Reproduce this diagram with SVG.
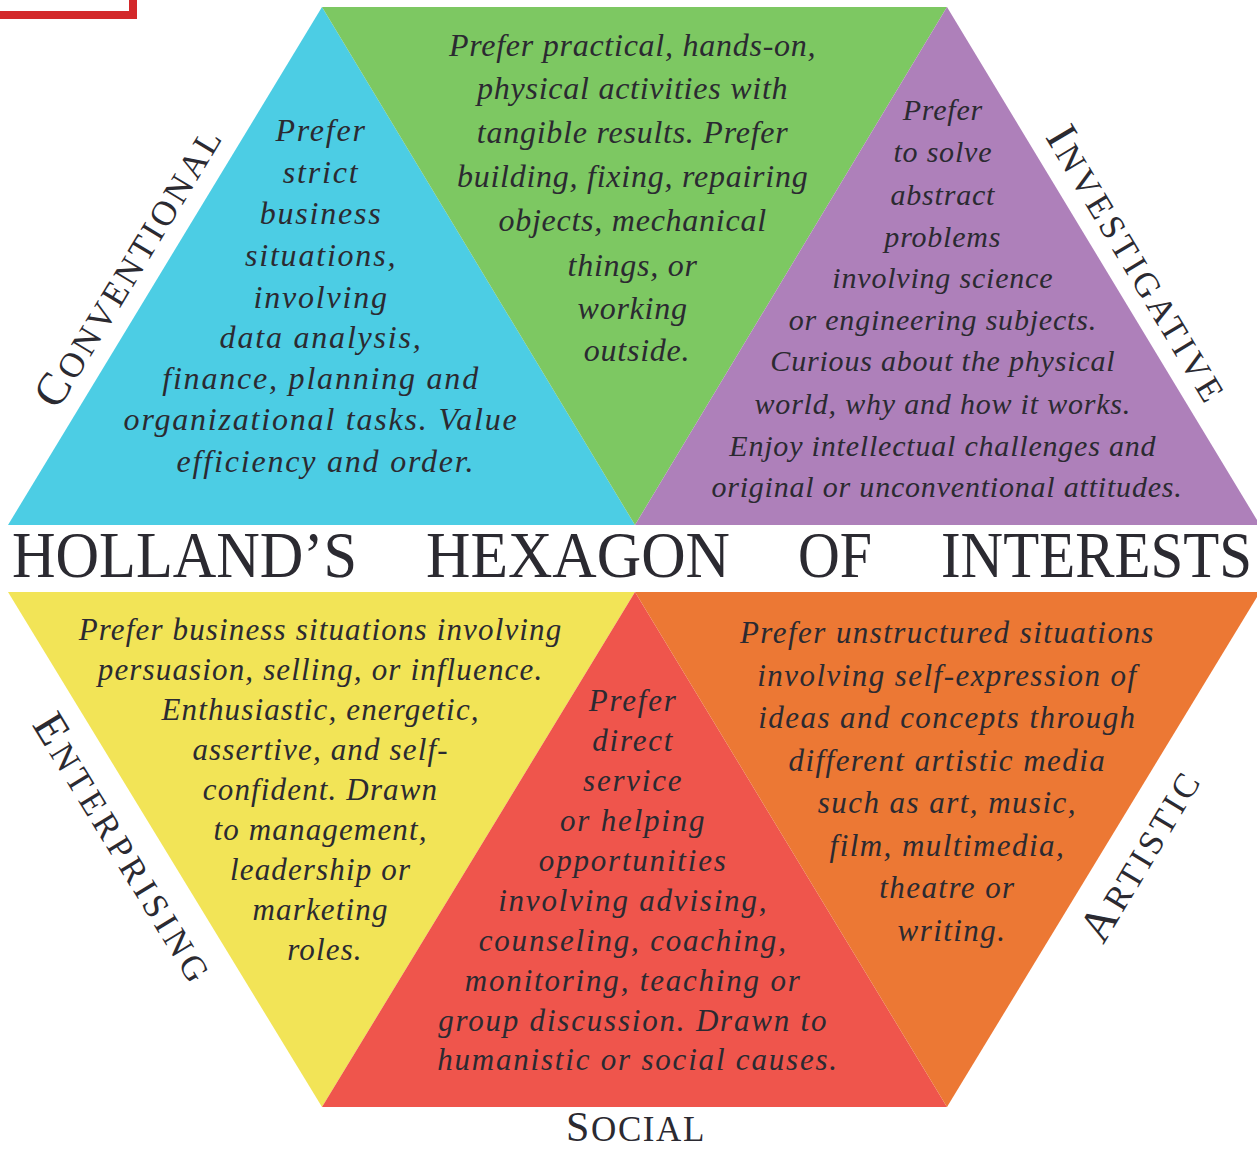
<svg xmlns="http://www.w3.org/2000/svg" width="1257" height="1152" viewBox="0 0 1257 1152">
<style>
.body{font-family:"Liberation Serif","DejaVu Serif",serif;font-style:italic;font-size:32px;fill:#2b2a31;text-anchor:middle}
.pur{font-size:30px}
.lbl{font-family:"Liberation Serif","DejaVu Serif",serif;font-size:35px;fill:#2b2a31;text-anchor:middle}
.big{font-size:46px}
.title{font-family:"Liberation Serif","DejaVu Serif",serif;font-size:59px;fill:#2b2a31}
</style>
<rect width="1257" height="1152" fill="#ffffff"/>
<rect x="-10" y="-10" width="143" height="25" fill="none" stroke="#d3282a" stroke-width="8"/>

<g id="conventional">
<polygon points="322,7 8,525 635,525" fill="#4ccde4"/>
<text class="body" style="letter-spacing:1.8px">
<tspan x="326" y="141">Prefer</tspan>
<tspan x="326" y="183">strict</tspan>
<tspan x="326" y="224">business</tspan>
<tspan x="326" y="266">situations,</tspan>
<tspan x="326" y="308">involving</tspan>
<tspan x="326" y="348">data analysis,</tspan>
<tspan x="326" y="389">finance, planning and</tspan>
<tspan x="326" y="430">organizational tasks. Value</tspan>
<tspan x="326" y="472">efficiency and order.</tspan>
</text>
<text class="lbl" transform="translate(129,268) rotate(-58.8)" x="0" y="13" textLength="318" lengthAdjust="spacing"><tspan class="big">C</tspan>ONVENTIONAL</text>
</g>

<g id="realistic">
<polygon points="322,7 947,7 635,525" fill="#7dc862"/>
<text class="body" style="letter-spacing:0.75px">
<tspan x="637" y="56">Prefer practical, hands-on,</tspan>
<tspan x="637" y="99">physical activities with</tspan>
<tspan x="637" y="143">tangible results. Prefer</tspan>
<tspan x="637" y="187">building, fixing, repairing</tspan>
<tspan x="637" y="231">objects, mechanical</tspan>
<tspan x="637" y="276">things, or</tspan>
<tspan x="637" y="319">working</tspan>
<tspan x="637" y="361">outside.</tspan>
</text>
</g>

<g id="investigative">
<polygon points="947,7 1260,525 635,525" fill="#ae80ba"/>
<text class="body pur" style="letter-spacing:0.8px">
<tspan x="947" y="120">Prefer</tspan>
<tspan x="947" y="162">to solve</tspan>
<tspan x="947" y="205">abstract</tspan>
<tspan x="947" y="247">problems</tspan>
<tspan x="947" y="288">involving science</tspan>
<tspan x="947" y="330">or engineering subjects.</tspan>
<tspan x="947" y="371">Curious about the physical</tspan>
<tspan x="947" y="414">world, why and how it works.</tspan>
<tspan x="947" y="456">Enjoy intellectual challenges and</tspan>
<tspan x="947" y="497">original or unconventional attitudes.</tspan>
</text>
<text class="lbl" transform="translate(1136,264) rotate(59.1)" x="0" y="13" textLength="312" lengthAdjust="spacing"><tspan class="big">I</tspan>NVESTIGATIVE</text>
</g>

<g id="title" transform="translate(0,577) scale(1,1.12)">
<text class="title" x="12" y="0" textLength="345" lengthAdjust="spacingAndGlyphs">HOLLAND’S</text>
<text class="title" x="426" y="0" textLength="304" lengthAdjust="spacingAndGlyphs">HEXAGON</text>
<text class="title" x="798" y="0" textLength="74" lengthAdjust="spacingAndGlyphs">OF</text>
<text class="title" x="941" y="0" textLength="311" lengthAdjust="spacingAndGlyphs">INTERESTS</text>
</g>

<g id="enterprising">
<polygon points="8,592 635,592 322,1107" fill="#f2e457"/>
<text class="body" style="font-size:31px;letter-spacing:1.15px">
<tspan x="325" y="640">Prefer business situations involving</tspan>
<tspan x="325" y="680">persuasion, selling, or influence.</tspan>
<tspan x="325" y="720">Enthusiastic, energetic,</tspan>
<tspan x="325" y="760">assertive, and self-</tspan>
<tspan x="325" y="800">confident. Drawn</tspan>
<tspan x="325" y="840">to management,</tspan>
<tspan x="325" y="880">leadership or</tspan>
<tspan x="325" y="920">marketing</tspan>
<tspan x="325" y="960">roles.</tspan>
</text>
<text class="lbl" transform="translate(122,848) rotate(58.6)" x="0" y="13" textLength="305" lengthAdjust="spacing"><tspan class="big">E</tspan>NTERPRISING</text>
</g>

<g id="social">
<polygon points="635,592 322,1107 947,1107" fill="#ef554c"/>
<text class="body" style="font-size:31px;letter-spacing:1.8px">
<tspan x="638" y="711">Prefer</tspan>
<tspan x="638" y="751">direct</tspan>
<tspan x="638" y="791">service</tspan>
<tspan x="638" y="831">or helping</tspan>
<tspan x="638" y="871">opportunities</tspan>
<tspan x="638" y="911">involving advising,</tspan>
<tspan x="638" y="951">counseling, coaching,</tspan>
<tspan x="638" y="991">monitoring, teaching or</tspan>
<tspan x="638" y="1031">group discussion. Drawn to</tspan>
<tspan x="638" y="1070">humanistic or social causes.</tspan>
</text>
<text class="lbl" x="636" y="1141" style="letter-spacing:1.6px"><tspan style="font-size:42px">S</tspan>OCIAL</text>
</g>

<g id="artistic">
<polygon points="635,592 1260,592 947,1107" fill="#ec7834"/>
<text class="body" style="font-size:31px;letter-spacing:1.45px">
<tspan x="952" y="643">Prefer unstructured situations</tspan>
<tspan x="952" y="686">involving self-expression of</tspan>
<tspan x="952" y="728">ideas and concepts through</tspan>
<tspan x="952" y="771">different artistic media</tspan>
<tspan x="952" y="813">such as art, music,</tspan>
<tspan x="952" y="856">film, multimedia,</tspan>
<tspan x="952" y="898">theatre or</tspan>
<tspan x="952" y="941">writing.</tspan>
</text>
<text class="lbl" transform="translate(1141,857) rotate(-59)" x="0" y="13" textLength="190" lengthAdjust="spacing"><tspan class="big">A</tspan>RTISTIC</text>
</g>
</svg>
